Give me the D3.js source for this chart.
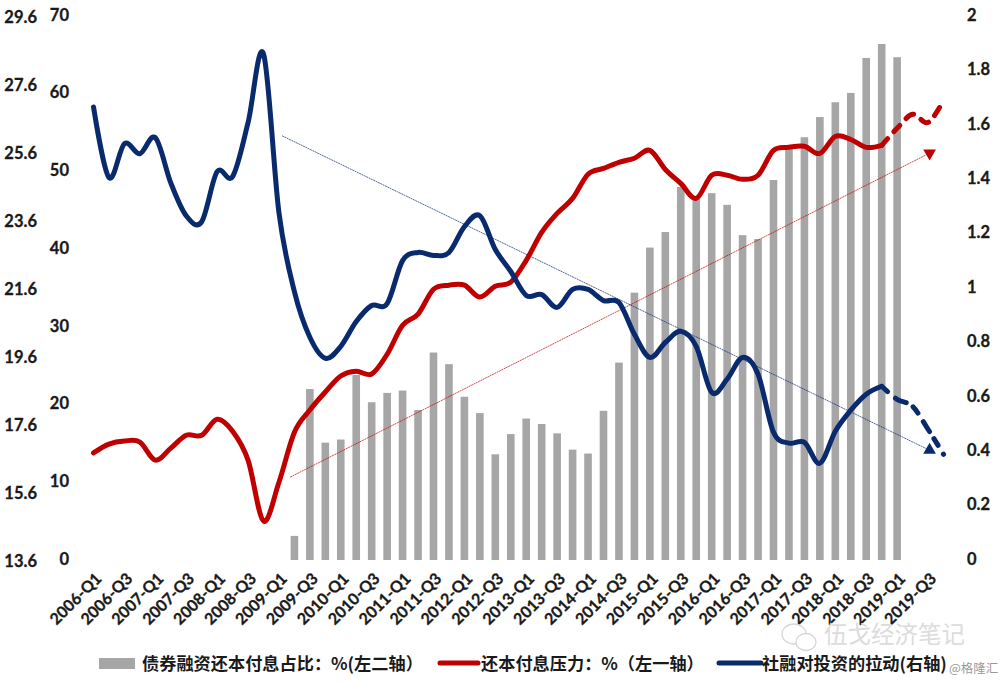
<!DOCTYPE html>
<html>
<head>
<meta charset="utf-8">
<script src="https://cdn.jsdelivr.net/npm/d3@7"></script>
<style>
  body { margin: 0; background: #fff; }
  text { fill: #1a1a1a; }
  .tick text { font-family: Lato, "Noto Sans", sans-serif; font-weight: 700; stroke: #1a1a1a; stroke-width: 0.3px; }
  .legend text { font-family: "Noto Sans CJK SC", sans-serif; font-weight: 700; font-size: 17.2px; }
</style>
</head>
<body>
<svg id="chart" width="1000" height="683"></svg>
<script>
const years = d3.range(2006, 2020);
const quarters = years.flatMap((y) => [1, 2, 3, 4].map((q) => `${y}-Q${q}`));
const quarterLabels = quarters.filter((d, i) => i % 2 === 0);

// first bar is 2009-Q2, last is 2019-Q1
const barStart = 13;
const bondShare = [
  3.1, 22.0, 15.1, 15.5, 23.8, 20.3, 21.5, 21.8, 19.3, 26.7,
  25.2, 21.0, 18.9, 13.6, 16.2, 18.2, 17.5, 16.3, 14.2, 13.7,
  19.2, 25.4, 34.4, 40.2, 42.2, 48.0, 46.7, 47.2, 45.7, 41.8,
  41.3, 48.9, 53.0, 54.4, 57.0, 58.9, 60.1, 64.6, 66.4, 64.7,
];
const debtPressure = [
  16.79, 17.05, 17.14, 17.11, 16.58, 16.93, 17.31, 17.31, 17.78, 17.43,
  16.58, 14.79, 15.93, 17.40, 18.05, 18.58, 19.05, 19.19, 19.11, 19.69,
  20.54, 20.87, 21.60, 21.72, 21.72, 21.37, 21.69, 21.81, 22.45, 23.27,
  23.83, 24.27, 24.98, 25.15, 25.33, 25.45, 25.68, 25.12, 24.71, 24.27,
  24.95, 24.95, 24.83, 24.95, 25.68, 25.77, 25.80, 25.59, 26.09, 26.00,
  25.77, 25.83, 26.33, 26.74, 26.50, 27.15,
];
const investmentPull = [
  1.662, 1.402, 1.527, 1.490, 1.549, 1.383, 1.262, 1.240, 1.424, 1.406,
  1.604, 1.857, 1.273, 0.983, 0.815, 0.738, 0.782, 0.873, 0.932, 0.939,
  1.097, 1.127, 1.116, 1.127, 1.222, 1.262, 1.138, 1.057, 0.969, 0.972,
  0.925, 0.991, 0.991, 0.950, 0.943, 0.826, 0.741, 0.796, 0.837, 0.782,
  0.613, 0.661, 0.741, 0.679, 0.466, 0.426, 0.429, 0.352, 0.470, 0.547,
  0.606, 0.635, 0.587, 0.561, 0.477, 0.385,
];
const forecastFrom = 51;

// hand-drawn trend arrows, [quarter index, axis value]
const pressureTrend = [[12.73, 16.08], [54.1, 25.6]];
const pullTrend = [[12.2, 1.556], [54.1, 0.40]];

const leftOneTicks = [13.6, 15.6, 17.6, 19.6, 21.6, 23.6, 25.6, 27.6, 29.6];
const leftTwoTicks = [0, 10, 20, 30, 40, 50, 60, 70];
const rightTicks = [0, 0.2, 0.4, 0.6, 0.8, 1, 1.2, 1.4, 1.6, 1.8, 2];

const GREY = "#a6a6a6";
const RED = "#c00000";
const NAVY = "#0a2a6e";

const svg = d3.select("#chart");

const x = d3.scaleLinear().domain([0, 55]).range([93.5, 943.5]);
const yLeftOne = d3.scaleLinear().domain([13.6, 29.6]).range([561.5, 17]);
const yLeftTwo = d3.scaleLinear().domain([0, 70]).range([560, 16]);
const yRight = d3.scaleLinear().domain([0, 2]).range([559, 15]);

svg.append("g")
  .attr("transform", "translate(40,0)")
  .call(d3.axisLeft(yLeftOne).tickValues(leftOneTicks).tickSize(0).tickFormat(d3.format(".1f")))
  .call((g) => g.select(".domain").remove())
  .selectAll("text").style("font-size", "16.5px");

svg.append("g")
  .attr("transform", "translate(72,-1)")
  .call(d3.axisLeft(yLeftTwo).tickValues(leftTwoTicks).tickSize(0))
  .call((g) => g.select(".domain").remove())
  .selectAll("text").style("font-size", "16.5px");

svg.append("g")
  .attr("transform", "translate(964,0)")
  .call(d3.axisRight(yRight).tickValues(rightTicks).tickSize(0).tickFormat((d) => String(d)))
  .call((g) => g.select(".domain").remove())
  .selectAll("text").style("font-size", "16.5px");

const xAxis = d3.axisBottom(d3.scalePoint().domain(quarters).range(x.range()))
  .tickValues(quarterLabels)
  .tickSize(0);

svg.append("g")
  .attr("transform", "translate(0,570)")
  .call(xAxis)
  .call((g) => g.select(".domain").remove())
  .selectAll("text")
  .style("font-size", "16px")
  .attr("text-anchor", "end")
  .attr("dx", "0")
  .attr("dy", "0.5em")
  .attr("y", 0)
  .attr("transform", "translate(3,4) rotate(-45)");

svg.append("g")
  .selectAll("rect")
  .data(bondShare)
  .join("rect")
  .attr("x", (d, i) => x(i + barStart) - 3.8)
  .attr("width", 7.6)
  .attr("y", (d) => yLeftTwo(d))
  .attr("height", (d) => yLeftTwo(0) - yLeftTwo(d))
  .attr("fill", GREY);

function trend(data, yScale, color, rotation) {
  const line = d3.line().x((d) => x(d[0])).y((d) => yScale(d[1]));
  svg.append("path")
    .attr("d", line(data))
    .attr("fill", "none")
    .attr("stroke", color)
    .attr("stroke-width", 1)
    .attr("stroke-opacity", 0.7)
    .attr("stroke-dasharray", "2 0.6");
  const tip = data[data.length - 1];
  svg.append("path")
    .attr("d", d3.symbol(d3.symbolTriangle, 70)())
    .attr("transform", `translate(${x(tip[0])},${yScale(tip[1])}) rotate(${rotation})`)
    .attr("fill", color);
}

trend(pressureTrend, yLeftOne, RED, 180);
trend(pullTrend, yRight, NAVY, 0);

function series(values, yScale, color, dash) {
  const line = d3.line()
    .x((d) => x(d.i))
    .y((d) => yScale(d.v))
    .curve(d3.curveCatmullRom.alpha(0));
  const points = values.map((v, i) => ({ i, v }));
  svg.append("path")
    .attr("d", line(points.slice(0, forecastFrom + 1)))
    .attr("fill", "none")
    .attr("stroke", color)
    .attr("stroke-width", 5)
    .attr("stroke-linecap", "round");
  svg.append("path")
    .attr("d", line(points.slice(forecastFrom)))
    .attr("fill", "none")
    .attr("stroke", color)
    .attr("stroke-width", 5)
    .attr("stroke-linecap", "round")
    .attr("stroke-dasharray", dash);
}

series(debtPressure, yLeftOne, RED, "9 9");
series(investmentPull, yRight, NAVY, "8 10 12 8");

// watermark
const mark = svg.append("g").attr("fill", "#fff").attr("stroke", "#d6d6d6").attr("stroke-width", 1.3);
mark.append("ellipse").attr("cx", 794).attr("cy", 634).attr("rx", 12).attr("ry", 10);
mark.append("ellipse").attr("cx", 806).attr("cy", 642).attr("rx", 10).attr("ry", 8.5);
svg.append("text")
  .attr("x", 824).attr("y", 643)
  .attr("font-family", "Noto Sans CJK SC")
  .attr("font-size", 23.5)
  .style("fill", "#dcdcdc")
  .text("伍戈经济笔记");

const legendItems = [
  { label: "债券融资还本付息占比：%(左二轴）", x: 99, text: 142, w: 36, color: GREY, bar: true },
  { label: "还本付息压力：%（左一轴）", x: 440, text: 481, w: 38, color: RED, bar: false },
  { label: "社融对投资的拉动(右轴)", x: 719, text: 762, w: 42, color: NAVY, bar: false },
];

const legend = svg.append("g").attr("class", "legend");
legendItems.forEach((d) => {
  if (d.bar) {
    legend.append("rect").attr("x", d.x).attr("y", 658).attr("width", d.w).attr("height", 11).attr("fill", d.color);
  } else {
    legend.append("line").attr("x1", d.x).attr("x2", d.x + d.w).attr("y1", 663).attr("y2", 663)
      .attr("stroke", d.color).attr("stroke-width", 5).attr("stroke-linecap", "round");
  }
  legend.append("text").attr("x", d.text).attr("y", 670).text(d.label);
});

svg.append("text")
  .attr("x", 949).attr("y", 673)
  .attr("font-family", "Noto Sans CJK SC")
  .attr("font-size", 12.5)
  .style("fill", "#9a9a9a")
  .text("@格隆汇");
</script>
</body>
</html>
